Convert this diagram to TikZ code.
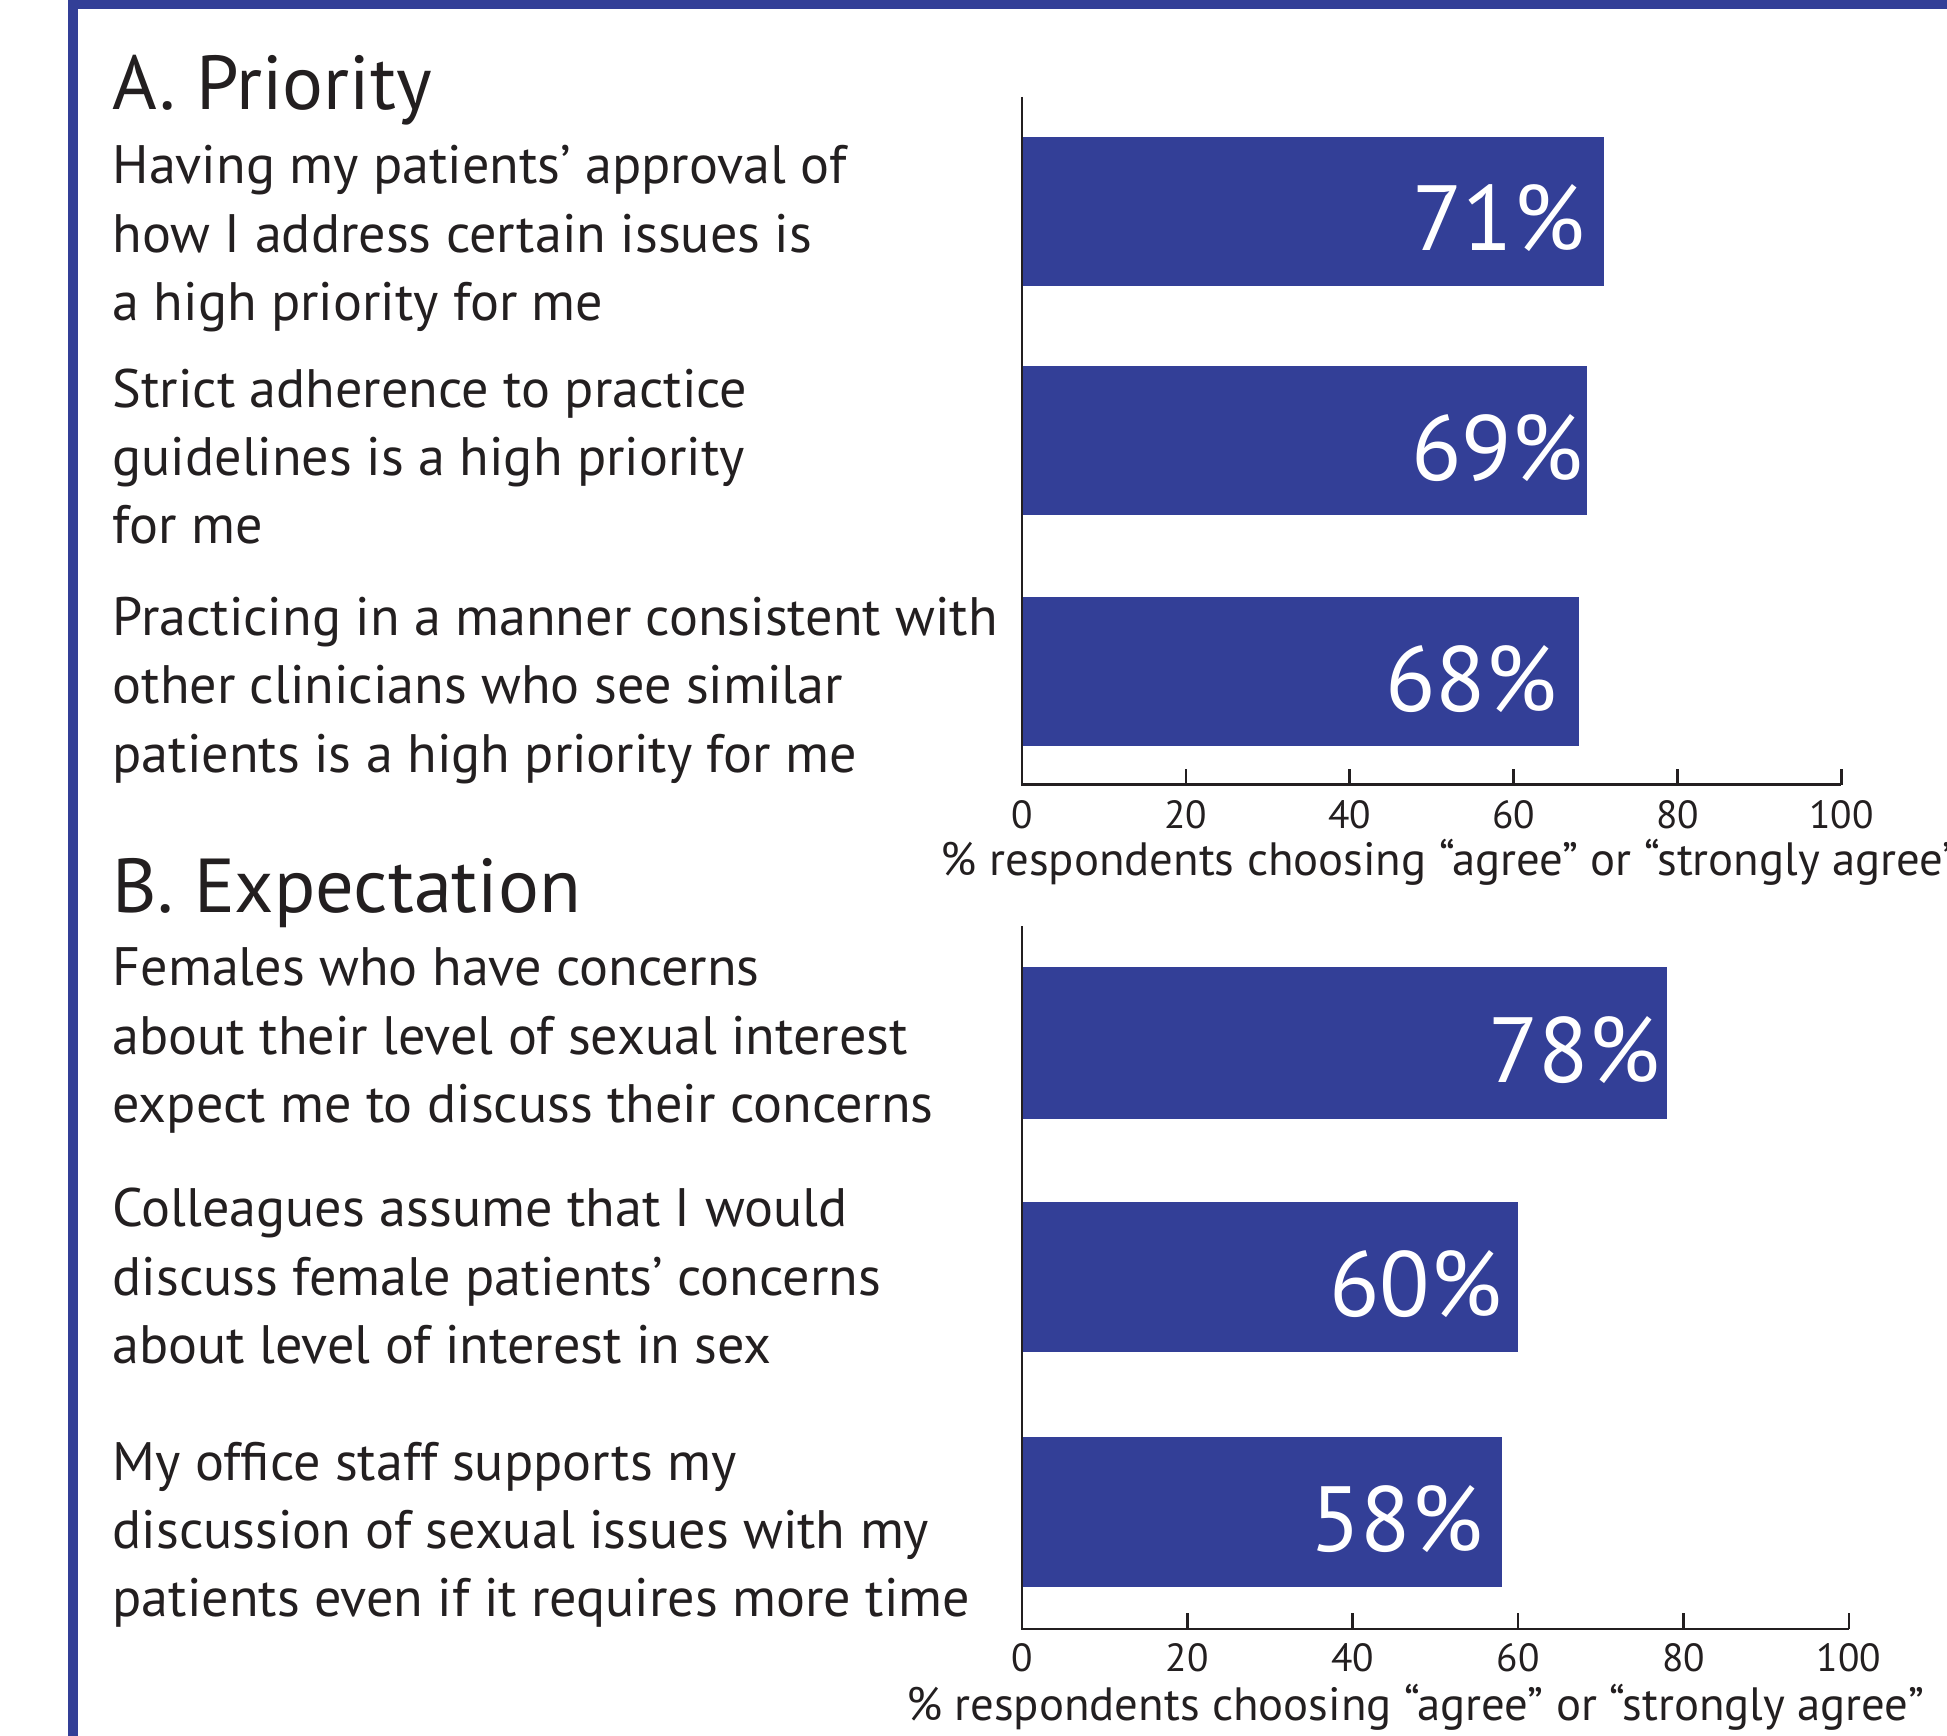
\documentclass[tikz,border=0pt]{standalone}
\usepackage{fontspec}
\setmainfont{PT Sans}
\definecolor{barblue}{HTML}{333F97}
\definecolor{ink}{HTML}{231F20}
\tikzset{
  bar/.style={fill=barblue, draw=none},
  pct/.style={text=white, font=\fontsize{21.2}{21.2}\selectfont, anchor=base east, inner sep=0pt},
  stmt/.style={text=ink, font=\fontsize{12.4}{15.65}\selectfont, align=left, anchor=base west, inner sep=0pt},
  head/.style={text=ink, font=\fontsize{17.5}{17.5}\selectfont, anchor=base west, inner sep=0pt},
  ticklbl/.style={text=ink, font=\fontsize{9}{9}\selectfont, anchor=base, inner sep=0pt},
  axlbl/.style={text=ink, font=\fontsize{10.7}{10.7}\selectfont, anchor=base west, inner sep=0pt},
  axis/.style={draw=ink, line width=0.6pt},
}
\begin{document}
\begin{tikzpicture}[x=0.01cm, y=-0.01cm]
  \useasboundingbox (0,0) rectangle (1568,1398);
  % frame
  \fill[barblue] (55,0) rectangle (63,1398);
  \fill[barblue] (55,0) rectangle (1568,7);

  % A. Priority
  \node[head] (titleA) at (90,88) {A. Priority};
  \node[stmt] (qa1) at (90,258) {Having my patients’ approval of\\how I address certain issues is\\a high priority for me};
  \node[stmt] (qa2) at (90,438) {Strict adherence to practice\\guidelines is a high priority\\for me};
  \node[stmt] (qa3) at (90,622) {Practicing in a manner consistent with\\other clinicians who see similar\\patients is a high priority for me};

  \foreach \v/\yt/\yb/\tx/\name in {71/110/230/1277/pa1, 69/295/415/1276/pa2, 68/481/601/1255/pa3} {
    \fill[bar] (823,\yt) rectangle ({823+\v*6.6},\yb);
    \node[pct] (\name) at (\tx,{(\yt+\yb)/2+32}) {\v\%};
  }
  \draw[axis] (823,78) -- (823,632) -- (1483,632);
  \foreach \t in {0,20,...,100} {
    \draw[axis] ({823+\t*6.6},632) -- ({823+\t*6.6},619);
    \node[ticklbl] (tA\t) at ({823+\t*6.6},667) {\t};
  }
  \node[axlbl] (axA) at (757,705) {\% respondents choosing “agree” or “strongly agree”};

  % B. Expectation
  \node[head] (titleB) at (90,735) {B. Expectation};
  \node[stmt] (qb1) at (90,904) {Females who have concerns\\about their level of sexual interest\\expect me to discuss their concerns};
  \node[stmt] (qb2) at (90,1098) {Colleagues assume that I would\\discuss female patients’ concerns\\about level of interest in sex};
  \node[stmt] (qb3) at (90,1302) {My office staff supports my\\discussion of sexual issues with my\\patients even if it requires more time};

  \foreach \v/\yt/\yb/\tx/\name in {78/779/901/1338/pb1, 60/968/1089/1210/pb2, 58/1157/1278/1195/pb3} {
    \fill[bar] (823,\yt) rectangle ({823+\v*6.66},\yb);
    \node[pct] (\name) at (\tx,{(\yt+\yb)/2+32}) {\v\%};
  }
  \draw[axis] (823,746) -- (823,1312) -- (1489,1312);
  \foreach \t in {0,20,...,100} {
    \draw[axis] ({823+\t*6.66},1312) -- ({823+\t*6.66},1299);
    \node[ticklbl] (tB\t) at ({823+\t*6.66},1346) {\t};
  }
  \node[axlbl] (axB) at (729,1386) {\% respondents choosing “agree” or “strongly agree”};
\end{tikzpicture}
\end{document}
